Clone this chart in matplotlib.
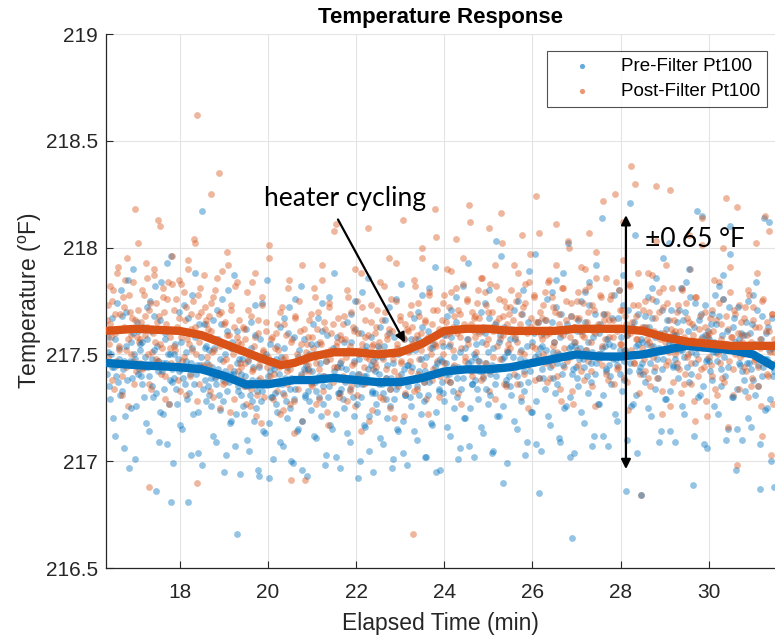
import numpy as np
import matplotlib
matplotlib.use("Agg")
import matplotlib.pyplot as plt

plt.rcParams['font.family'] = ['Liberation Sans', 'DejaVu Sans']
plt.rcParams['mathtext.fontset'] = 'custom'
plt.rcParams['mathtext.rm'] = 'Liberation Sans'
plt.rcParams['mathtext.it'] = 'Liberation Sans'

# ---------------- data ----------------
t_start, t_end = 16.35, 31.5   # sampled time span (min)
t_shift = 0.016                # second sample set lies between the first

post_filter_a = [
    217.66, 217.49, 217.82, 217.58, 217.75, 217.34, 217.69, 217.45, 217.91, 217.54, 217.62, 217.40, 217.72, 217.85, 217.52, 217.26, 217.78, 217.59, 217.67, 217.47, 218.18, 217.42, 217.71, 217.56,
    217.57, 217.80, 217.44, 217.68, 217.93, 217.63, 217.36, 217.74, 217.51, 217.60, 217.87, 217.48, 217.65, 218.13, 217.55, 217.41, 217.77, 217.70, 217.29, 217.61, 217.84, 217.53, 217.46, 217.96,
    217.71, 217.52, 217.63, 217.38, 217.85, 217.58, 217.47, 217.79, 217.66, 217.31, 217.90, 217.55, 217.62, 217.43, 217.75, 218.02, 217.50, 217.68, 217.36, 217.81, 217.59, 217.45, 217.72, 217.64,
    217.49, 217.68, 217.33, 217.61, 217.77, 217.52, 217.40, 217.86, 217.56, 217.25, 217.70, 217.47, 217.64, 217.37, 217.59, 217.92, 217.44, 217.73, 217.53, 217.29, 217.82, 217.58, 217.42, 217.66,
    217.55, 217.38, 217.62, 217.46, 217.27, 217.71, 217.50, 217.34, 217.84, 217.43, 217.58, 217.21, 217.66, 217.48, 217.39, 217.77, 217.52, 217.30, 217.61, 217.44, 217.95, 217.36, 217.57, 217.47,
    217.41, 217.60, 217.33, 217.52, 217.70, 217.45, 217.24, 217.64, 217.49, 217.36, 217.81, 217.43, 216.91, 217.57, 217.28, 217.67, 217.47, 217.38, 217.75, 217.55, 217.19, 217.62, 217.42, 217.51,
    217.58, 217.42, 217.69, 217.35, 217.53, 217.77, 217.46, 217.62, 217.29, 217.56, 217.85, 217.40, 217.65, 217.51, 217.23, 217.72, 217.48, 217.60, 217.37, 218.08, 217.54, 217.44, 217.67, 217.32,
    217.47, 217.64, 217.38, 217.57, 217.80, 217.52, 217.33, 217.70, 217.45, 217.61, 217.26, 217.75, 217.50, 217.41, 217.88, 217.55, 217.36, 217.66, 217.49, 217.59, 217.19, 217.73, 217.54, 217.43,
    217.60, 217.44, 217.71, 217.53, 217.30, 217.66, 217.48, 217.82, 217.39, 217.57, 217.62, 217.25, 217.76, 217.50, 217.42, 217.93, 217.55, 217.35, 217.68, 217.46, 217.58, 217.21, 217.64, 217.52,
    217.51, 217.69, 217.42, 217.63, 217.85, 217.57, 217.34, 217.74, 217.48, 217.60, 217.95, 217.45, 217.66, 217.29, 217.58, 217.79, 217.53, 217.38, 217.71, 217.55, 218.05, 217.47, 217.62, 217.40,
    217.66, 217.50, 217.78, 217.59, 217.38, 217.72, 217.55, 217.89, 217.63, 217.45, 217.81, 217.60, 217.32, 217.69, 217.53, 217.95, 217.64, 217.47, 217.75, 217.57, 218.12, 217.42, 217.70, 217.61,
    217.58, 217.74, 217.47, 217.67, 217.86, 217.61, 217.40, 217.79, 217.55, 217.70, 217.33, 217.83, 217.63, 217.49, 217.92, 217.65, 217.44, 217.76, 217.57, 218.02, 217.68, 217.36, 217.72, 217.52,
    217.69, 217.53, 217.80, 217.60, 217.41, 217.75, 217.56, 217.88, 217.64, 217.30, 217.72, 217.50, 217.83, 217.62, 217.45, 217.97, 217.67, 217.54, 217.78, 217.38, 217.65, 217.48, 218.07, 217.59,
    217.57, 217.73, 217.46, 217.66, 217.84, 217.60, 217.39, 217.77, 217.54, 217.70, 217.92, 217.51, 217.64, 217.34, 217.81, 217.59, 217.44, 217.75, 217.62, 218.00, 217.49, 217.68, 217.27, 217.63,
    217.67, 217.52, 217.79, 217.61, 217.42, 217.74, 217.58, 217.90, 217.65, 217.47, 217.82, 217.56, 217.35, 217.71, 217.60, 217.98, 217.63, 217.50, 217.77, 217.45, 217.69, 217.57, 217.86, 217.38,
    217.58, 217.76, 217.49, 217.66, 218.25, 217.62, 217.43, 217.80, 217.55, 217.71, 217.94, 217.52, 217.64, 217.37, 217.83, 217.60, 218.38, 217.73, 217.46, 217.68, 217.57, 217.88, 217.41, 216.84,
    217.63, 217.48, 217.75, 217.57, 217.39, 217.70, 217.54, 217.87, 217.61, 217.44, 218.29, 217.52, 217.79, 217.59, 217.33, 217.72, 217.56, 217.92, 217.47, 217.66, 217.26, 217.81, 217.60, 217.50,
    217.52, 217.70, 217.43, 217.61, 217.81, 217.55, 217.36, 217.74, 217.49, 217.65, 217.90, 217.46, 217.59, 217.28, 217.77, 217.53, 217.40, 217.68, 217.57, 218.01, 217.44, 217.63, 217.21, 217.58,
    217.60, 217.45, 217.71, 217.53, 217.34, 217.66, 217.50, 217.84, 217.57, 217.39, 217.76, 217.55, 218.23, 217.62, 217.47, 217.91, 217.58, 217.31, 217.69, 217.52, 216.98, 217.73, 217.49, 217.56,
    217.50, 217.67, 217.42, 217.59, 217.80, 217.53, 217.35, 217.72, 217.47, 217.63, 217.88, 217.44, 217.57, 217.26, 217.75, 217.54, 218.15, 217.65, 217.40, 217.61, 217.03, 217.69, 217.51, 217.46,
]

post_filter_b = [
    217.73, 217.55, 217.64, 217.38, 217.80, 217.60, 217.47, 217.88, 217.52, 217.69, 217.31, 217.77, 217.63, 217.44, 217.95, 217.57, 217.70, 217.50, 217.84, 217.36, 217.66, 217.58, 218.02, 217.46,
    217.65, 217.43, 217.78, 217.59, 217.86, 217.50, 217.71, 217.34, 217.62, 217.90, 217.56, 217.74, 217.47, 217.68, 218.10, 217.53, 217.81, 217.40, 217.64, 217.76, 217.27, 217.58, 217.83, 217.61,
    217.54, 217.76, 217.45, 217.67, 217.33, 217.83, 217.61, 217.49, 217.72, 217.57, 217.94, 217.40, 217.69, 217.52, 218.04, 217.63, 217.28, 217.78, 217.56, 217.70, 217.44, 217.87, 217.59, 217.66,
    217.62, 217.45, 217.74, 217.51, 217.30, 217.80, 217.57, 217.41, 217.69, 217.54, 217.89, 217.36, 217.65, 217.48, 217.98, 217.59, 217.23, 217.71, 217.50, 217.63, 217.39, 217.84, 217.56, 217.46,
    217.44, 217.63, 217.35, 217.57, 217.79, 217.48, 217.26, 217.68, 217.42, 217.54, 217.88, 217.31, 217.60, 217.45, 217.18, 217.73, 217.51, 217.37, 217.65, 217.49, 218.01, 217.40, 217.58, 217.29,
    217.53, 217.37, 217.64, 217.44, 217.22, 217.72, 217.48, 217.31, 217.59, 217.42, 217.85, 217.27, 217.56, 217.46, 217.13, 217.68, 217.50, 217.34, 217.61, 217.40, 217.92, 217.47, 216.91, 217.55,
    217.45, 217.66, 217.36, 217.58, 217.81, 217.49, 217.27, 217.70, 217.43, 217.55, 217.92, 217.33, 217.62, 217.47, 217.17, 217.74, 217.52, 217.39, 217.64, 217.44, 218.11, 217.56, 217.30, 217.59,
    217.57, 217.40, 217.68, 217.49, 217.28, 217.77, 217.54, 217.35, 217.63, 217.46, 217.90, 217.31, 217.60, 217.52, 217.14, 217.72, 217.44, 217.58, 217.37, 218.09, 217.48, 217.65, 217.24, 217.55,
    217.46, 217.63, 217.37, 217.56, 217.84, 217.50, 217.29, 217.70, 217.43, 217.59, 217.95, 217.34, 217.61, 217.48, 217.20, 217.75, 217.53, 217.40, 217.66, 217.47, 218.13, 217.57, 217.32, 217.62,
    217.61, 217.47, 217.73, 217.55, 217.33, 217.82, 217.59, 217.41, 217.68, 217.52, 218.00, 217.37, 217.65, 217.57, 217.22, 217.78, 217.50, 217.64, 217.43, 218.18, 217.54, 217.71, 217.30, 217.60,
    217.56, 217.74, 217.46, 217.65, 217.90, 217.60, 217.37, 217.79, 217.52, 217.68, 218.04, 217.43, 217.71, 217.58, 217.27, 217.83, 217.62, 217.49, 217.76, 217.55, 218.20, 217.64, 217.40, 217.67,
    217.68, 217.51, 217.80, 217.60, 217.38, 217.86, 217.63, 217.46, 217.73, 217.57, 218.09, 217.42, 217.70, 217.61, 217.29, 217.82, 217.54, 217.67, 217.48, 218.16, 217.59, 217.75, 217.35, 217.64,
    217.55, 217.72, 217.44, 217.66, 217.92, 217.58, 217.36, 217.78, 217.51, 217.69, 218.06, 217.41, 217.74, 217.60, 217.25, 217.84, 217.63, 217.47, 217.77, 217.53, 218.24, 217.65, 217.39, 217.70,
    217.67, 217.50, 217.79, 217.59, 217.37, 217.85, 217.62, 217.45, 217.72, 217.56, 218.11, 217.40, 217.69, 217.60, 217.28, 217.81, 217.53, 217.66, 217.47, 218.03, 217.58, 217.74, 217.33, 217.63,
    217.56, 217.75, 217.45, 217.67, 217.91, 217.59, 217.38, 217.80, 217.52, 217.70, 218.07, 217.42, 217.73, 217.61, 217.26, 217.86, 217.64, 217.48, 217.78, 217.54, 218.22, 217.66, 217.41, 217.69,
    217.66, 217.49, 217.78, 217.58, 217.36, 217.84, 217.61, 217.44, 217.71, 217.55, 218.12, 217.39, 217.68, 217.59, 217.24, 217.82, 217.52, 217.65, 217.46, 218.30, 217.57, 217.73, 217.32, 217.62,
    217.53, 217.71, 217.42, 217.63, 217.88, 217.56, 217.35, 217.76, 217.49, 217.67, 218.03, 217.39, 217.70, 217.57, 217.22, 217.81, 217.60, 217.45, 217.74, 217.51, 218.27, 217.62, 217.37, 217.66,
    217.61, 217.46, 217.73, 217.54, 217.32, 217.80, 217.58, 217.41, 217.67, 217.50, 218.06, 217.36, 217.64, 217.55, 217.19, 217.77, 217.48, 217.62, 217.43, 218.14, 217.53, 217.70, 217.28, 217.59,
    217.49, 217.67, 217.40, 217.61, 217.85, 217.53, 217.31, 217.74, 217.46, 217.64, 218.00, 217.37, 217.68, 217.55, 217.16, 217.79, 217.58, 217.43, 217.71, 217.50, 218.19, 217.60, 217.34, 217.65,
    217.59, 217.44, 217.72, 217.52, 217.30, 217.78, 217.56, 217.39, 217.66, 217.48, 218.02, 217.35, 217.63, 217.53, 217.12, 217.76, 217.46, 217.61, 217.41, 218.08, 217.51, 217.69, 217.27, 217.57,
]

pre_filter_a = [
    217.41, 217.58, 217.29, 217.50, 217.67, 217.44, 217.12, 217.62, 217.37, 217.53, 217.80, 217.33, 217.47, 217.21, 217.70, 217.45, 216.97, 217.56, 217.39, 217.90, 217.48, 217.26, 217.61, 217.43,
    217.52, 217.36, 217.63, 217.44, 217.18, 217.57, 217.40, 217.75, 217.48, 217.30, 217.68, 216.86, 217.54, 217.42, 217.23, 217.84, 217.46, 217.34, 217.60, 217.08, 217.50, 217.38, 217.96, 217.43,
    217.39, 217.55, 217.27, 217.48, 217.70, 217.43, 217.15, 217.61, 217.36, 217.51, 216.81, 217.32, 217.46, 217.78, 217.22, 217.58, 217.41, 217.04, 217.64, 217.45, 218.17, 217.34, 217.53, 217.28,
    217.46, 217.31, 217.58, 217.39, 217.12, 217.53, 217.36, 217.71, 217.43, 217.24, 217.64, 217.38, 216.95, 217.50, 217.33, 217.80, 217.41, 217.19, 217.56, 217.42, 217.07, 217.61, 217.35, 217.48,
    217.31, 217.48, 217.22, 217.40, 217.62, 217.35, 217.05, 217.53, 217.28, 217.44, 217.73, 217.25, 217.38, 216.93, 217.57, 217.33, 217.14, 217.49, 217.37, 217.85, 217.18, 217.42, 217.30, 217.01,
    217.43, 217.27, 217.54, 217.36, 217.09, 217.49, 217.32, 217.67, 217.39, 217.20, 217.60, 217.34, 217.00, 217.46, 217.29, 217.76, 217.38, 217.15, 217.52, 217.41, 216.96, 217.57, 217.31, 217.45,
    217.33, 217.50, 217.24, 217.42, 217.64, 217.37, 217.11, 217.55, 217.30, 217.46, 217.74, 217.27, 217.40, 217.03, 217.59, 217.35, 217.17, 217.51, 217.39, 217.88, 217.22, 217.44, 217.32, 216.97,
    217.44, 217.29, 217.56, 217.37, 217.13, 217.51, 217.34, 217.69, 217.41, 217.21, 217.62, 217.36, 216.92, 217.48, 217.30, 217.79, 217.40, 217.16, 217.54, 217.43, 217.05, 217.58, 217.33, 217.47,
    217.32, 217.49, 217.23, 217.41, 217.63, 217.36, 217.08, 217.54, 217.29, 217.45, 217.72, 217.26, 217.39, 217.01, 217.58, 217.34, 217.15, 217.50, 217.38, 217.83, 217.19, 217.43, 217.31, 216.98,
    217.45, 217.30, 217.57, 217.38, 217.14, 217.52, 217.35, 217.70, 217.42, 217.22, 217.63, 217.37, 217.02, 217.49, 217.31, 217.81, 217.41, 217.17, 217.55, 217.44, 216.95, 217.59, 217.34, 217.48,
    217.37, 217.54, 217.28, 217.46, 217.68, 217.41, 217.12, 217.58, 217.33, 217.49, 217.77, 217.30, 217.44, 217.06, 217.62, 217.39, 217.20, 217.53, 217.43, 217.93, 217.25, 217.47, 217.36, 217.02,
    217.49, 217.34, 217.61, 217.42, 217.16, 217.56, 217.39, 217.74, 217.46, 217.27, 217.67, 217.41, 217.04, 217.53, 217.36, 218.03, 217.44, 217.21, 217.59, 217.48, 216.90, 217.63, 217.38, 217.51,
    217.40, 217.57, 217.31, 217.49, 217.71, 217.44, 217.15, 217.61, 217.36, 217.52, 217.80, 217.33, 217.47, 217.09, 217.65, 217.42, 217.23, 217.56, 217.46, 217.97, 217.28, 217.50, 216.85, 217.05,
    217.54, 217.39, 217.66, 217.47, 217.21, 217.61, 217.44, 217.79, 217.51, 217.32, 217.72, 217.46, 217.11, 217.58, 217.41, 217.88, 217.49, 217.26, 217.64, 217.53, 217.02, 217.68, 217.43, 217.56,
    217.44, 217.61, 217.35, 217.53, 217.75, 217.48, 217.18, 217.65, 217.40, 217.56, 217.84, 217.37, 217.51, 217.12, 217.69, 217.46, 217.27, 217.60, 217.50, 218.14, 217.31, 217.54, 217.42, 217.07,
    217.55, 217.40, 217.67, 217.48, 217.22, 217.62, 217.45, 217.80, 217.52, 217.33, 217.73, 217.47, 216.86, 217.59, 217.42, 218.21, 217.50, 217.27, 217.65, 217.54, 217.04, 217.69, 217.44, 217.57,
    217.46, 217.63, 217.37, 217.55, 217.77, 217.50, 217.21, 217.67, 217.42, 217.58, 217.86, 217.39, 217.53, 217.14, 217.71, 217.48, 217.29, 217.62, 217.52, 218.02, 217.33, 217.56, 217.44, 217.09,
    217.59, 217.44, 217.71, 217.52, 217.26, 217.66, 217.49, 217.84, 217.56, 217.37, 217.77, 217.51, 216.89, 217.63, 217.46, 218.17, 217.54, 217.31, 217.69, 217.58, 217.08, 217.73, 217.48, 217.61,
    217.47, 217.64, 217.38, 217.56, 217.78, 217.51, 217.22, 217.68, 217.43, 217.59, 217.87, 217.40, 217.54, 217.15, 217.72, 218.10, 217.30, 217.63, 217.53, 216.96, 217.34, 217.57, 217.45, 217.10,
    217.53, 217.38, 217.65, 217.46, 217.20, 217.60, 217.43, 217.78, 217.50, 217.31, 217.71, 217.45, 216.87, 217.57, 217.40, 218.14, 217.48, 217.25, 217.63, 217.52, 217.00, 217.67, 217.42, 217.55,
]

pre_filter_b = [
    217.51, 217.35, 217.62, 217.44, 217.20, 217.57, 217.40, 217.74, 217.48, 217.31, 217.68, 217.43, 217.06, 217.54, 217.38, 217.85, 217.47, 217.25, 217.60, 217.50, 217.01, 217.65, 217.41, 217.55,
    217.40, 217.56, 217.30, 217.49, 217.72, 217.44, 217.14, 217.61, 217.35, 217.52, 217.82, 217.32, 217.47, 217.09, 217.66, 217.42, 217.22, 217.57, 217.46, 217.93, 217.27, 217.50, 217.37, 216.99,
    217.50, 217.34, 217.61, 217.42, 217.17, 217.56, 217.39, 217.73, 217.47, 217.29, 217.67, 217.41, 217.03, 217.53, 217.36, 217.88, 217.45, 217.23, 217.59, 217.49, 216.98, 217.64, 217.38, 217.54,
    217.35, 217.52, 217.26, 217.44, 217.66, 217.39, 217.09, 217.57, 217.31, 217.48, 217.76, 217.28, 217.42, 217.03, 217.61, 217.37, 217.18, 217.53, 217.41, 217.87, 217.22, 217.46, 217.33, 216.94,
    217.41, 217.26, 217.52, 217.35, 217.10, 217.47, 217.31, 217.65, 217.38, 217.19, 217.59, 217.33, 216.96, 217.44, 217.28, 217.74, 217.37, 217.13, 217.50, 217.40, 216.92, 217.55, 217.30, 217.45,
    217.32, 217.48, 217.23, 217.41, 217.63, 217.36, 217.07, 217.53, 217.28, 217.44, 217.72, 217.25, 217.39, 216.99, 217.58, 217.34, 217.14, 217.49, 217.38, 217.82, 217.19, 217.43, 217.30, 216.93,
    217.43, 217.28, 217.55, 217.37, 217.12, 217.50, 217.33, 217.67, 217.40, 217.21, 217.61, 217.35, 216.98, 217.47, 217.30, 217.77, 217.39, 217.15, 217.53, 217.42, 217.02, 217.58, 217.32, 217.46,
    217.34, 217.51, 217.25, 217.43, 217.65, 217.38, 217.09, 217.56, 217.30, 217.47, 217.75, 217.27, 217.41, 217.00, 217.60, 217.36, 217.17, 217.52, 217.40, 217.86, 217.21, 217.45, 217.32, 216.95,
    217.42, 217.27, 217.54, 217.36, 217.11, 217.49, 217.32, 217.66, 217.39, 217.20, 217.60, 217.34, 216.97, 217.46, 217.29, 217.76, 217.38, 217.14, 217.52, 217.41, 217.04, 217.57, 217.31, 217.45,
    217.35, 217.52, 217.26, 217.44, 217.67, 217.39, 217.10, 217.57, 217.31, 217.48, 217.78, 217.28, 217.42, 217.02, 217.61, 217.37, 217.18, 217.53, 217.41, 217.91, 217.23, 217.46, 217.33, 216.96,
    217.47, 217.32, 217.59, 217.41, 217.16, 217.54, 217.37, 217.71, 217.44, 217.25, 217.65, 217.39, 217.01, 217.51, 217.34, 217.82, 217.43, 217.20, 217.57, 217.46, 217.07, 217.62, 217.36, 217.50,
    217.38, 217.55, 217.29, 217.47, 217.70, 217.42, 217.13, 217.60, 217.34, 217.51, 217.80, 217.31, 217.45, 217.05, 217.64, 217.40, 217.21, 217.56, 217.44, 217.96, 217.26, 217.49, 217.36, 216.99,
    217.51, 217.35, 217.62, 217.44, 217.19, 217.57, 217.40, 217.75, 217.48, 217.28, 217.69, 217.42, 217.03, 217.54, 217.37, 217.89, 217.46, 217.23, 217.60, 217.49, 217.08, 217.65, 217.39, 217.53,
    217.43, 217.60, 217.34, 217.52, 217.76, 217.47, 217.17, 217.65, 217.39, 217.56, 217.85, 217.36, 217.50, 217.09, 217.69, 217.45, 217.25, 217.61, 217.49, 218.02, 217.30, 217.54, 217.41, 217.04,
    217.54, 217.39, 217.66, 217.48, 217.23, 217.61, 217.44, 217.79, 217.52, 217.32, 217.73, 217.46, 217.07, 217.58, 217.41, 217.92, 217.50, 217.27, 217.64, 217.53, 217.12, 217.69, 217.43, 217.57,
    217.45, 217.62, 217.36, 217.54, 217.78, 217.48, 217.19, 217.67, 217.41, 217.58, 217.87, 217.38, 217.52, 217.10, 217.71, 217.46, 217.26, 217.63, 217.50, 218.06, 217.31, 217.55, 217.42, 216.84,
    217.56, 217.41, 217.68, 217.50, 217.25, 217.63, 217.46, 217.81, 217.54, 217.34, 217.75, 217.48, 217.09, 217.60, 217.43, 217.95, 217.52, 217.29, 217.66, 217.55, 217.14, 217.71, 217.45, 217.59,
    217.48, 217.65, 217.39, 217.57, 217.81, 217.52, 217.22, 217.70, 217.44, 217.61, 217.90, 217.41, 217.55, 217.12, 217.74, 217.50, 217.30, 217.66, 217.54, 218.15, 217.35, 217.59, 217.47, 217.06,
    217.57, 217.42, 217.69, 217.51, 217.26, 217.64, 217.47, 217.82, 217.55, 217.35, 217.76, 217.49, 217.10, 217.61, 217.44, 217.97, 217.53, 217.30, 217.67, 217.56, 217.15, 217.72, 217.46, 217.60,
    217.42, 217.59, 217.33, 217.51, 217.75, 217.46, 217.16, 217.64, 217.38, 217.55, 217.84, 217.35, 217.49, 217.08, 217.68, 217.44, 217.24, 217.60, 217.48, 218.12, 217.29, 217.53, 217.40, 216.88,
]

# isolated outliers (time, value)
post_out_t = [18.4, 18.9, 18.7, 23.3, 17.3, 18.4]
post_out_v = [218.62, 218.35, 218.25, 216.66, 216.88, 216.90]
pre_out_t = [19.3, 26.9, 17.8]
pre_out_v = [216.66, 216.64, 216.81]

# smoothed (moving mean) trends
trend_t = [16.33, 17.0, 18.0, 18.5, 19.0, 19.5, 20.0, 20.3, 20.6, 21.0, 21.5, 22.0, 22.5, 23.0,
           23.5, 24.0, 24.5, 25.0, 25.5, 26.0, 26.5, 27.0, 27.5, 28.0, 28.5, 29.0, 29.5, 30.0,
           30.5, 31.0, 31.5]
post_trend = [217.61, 217.62, 217.61, 217.59, 217.55, 217.51, 217.47, 217.45, 217.46, 217.49, 217.51,
              217.51, 217.50, 217.51, 217.55, 217.61, 217.62, 217.62, 217.61, 217.61, 217.61, 217.62,
              217.62, 217.62, 217.61, 217.58, 217.56, 217.55, 217.54, 217.54, 217.54]
pre_trend = [217.46, 217.45, 217.44, 217.43, 217.40, 217.36, 217.36, 217.37, 217.38, 217.38, 217.39,
             217.38, 217.37, 217.37, 217.39, 217.42, 217.43, 217.43, 217.44, 217.46, 217.48, 217.50,
             217.49, 217.49, 217.50, 217.52, 217.54, 217.53, 217.52, 217.50, 217.44]

x_ticks = [18, 20, 22, 24, 26, 28, 30]
y_ticks = [216.5, 217, 217.5, 218, 218.5, 219]
y_ticklabels = ['216.5', '217', '217.5', '218', '218.5', '219']

BLUE = '#0072BD'
ORANGE = '#D95319'
MS = 24
AL = 0.42

# ---------------- figure ----------------
fig = plt.figure(figsize=(7.75, 6.37), dpi=100)
ax = fig.add_axes([106/775, 69/637, 669/775, 534/637])

def times(vals, shift):
    return np.linspace(t_start + shift, t_end - shift, len(vals))

ax.scatter(times(pre_filter_a, 0), pre_filter_a, s=MS, color=BLUE, alpha=AL, linewidths=0,
           zorder=2, label='Pre-Filter Pt100')
ax.scatter(times(post_filter_a, 0), post_filter_a, s=MS, color=ORANGE, alpha=AL, linewidths=0,
           zorder=2, label='Post-Filter Pt100')
ax.scatter(times(pre_filter_b, t_shift), pre_filter_b, s=MS, color=BLUE, alpha=AL, linewidths=0, zorder=2)
ax.scatter(times(post_filter_b, t_shift), post_filter_b, s=MS, color=ORANGE, alpha=AL, linewidths=0, zorder=2)
ax.scatter(pre_out_t, pre_out_v, s=MS, color=BLUE, alpha=AL, linewidths=0, zorder=2)
ax.scatter(post_out_t, post_out_v, s=MS, color=ORANGE, alpha=AL, linewidths=0, zorder=2)

ax.plot(trend_t, pre_trend, color=BLUE, lw=6.0, zorder=3, solid_capstyle='butt')
ax.plot(trend_t, post_trend, color=ORANGE, lw=6.0, zorder=3, solid_capstyle='butt')

ax.set_xlim(16.33, 31.5)
ax.set_ylim(216.5, 219)
ax.set_xticks(x_ticks)
ax.set_yticks(y_ticks)
ax.set_yticklabels(y_ticklabels)
ax.tick_params(direction='in', length=5, width=0.8, colors='#262626', labelsize=15)
ax.tick_params(axis='y', pad=6)
ax.tick_params(axis='x', pad=11)
ax.grid(True, color='#e4e4e4', lw=0.8, zorder=0)
ax.set_axisbelow(True)
for s in ['top', 'right']:
    ax.spines[s].set_visible(False)
for s in ['left', 'bottom']:
    ax.spines[s].set_color('#262626')
    ax.spines[s].set_linewidth(0.9)

ax.set_xlabel('Elapsed Time (min)', fontsize=16.5, color='#262626', labelpad=7)
ax.set_ylabel(r'Temperature ($^{\mathrm{o}}$F)', fontsize=16.5, color='#262626', labelpad=1)
fig.text(440/775, 1 - 17/637, 'Temperature Response', ha='center', va='center',
         fontsize=16, fontweight='bold', color='black')

leg = ax.legend(loc='upper right', bbox_to_anchor=(767/775, 1 - 51/637),
                bbox_transform=fig.transFigure, fontsize=13.5, frameon=True, fancybox=False,
                edgecolor='#262626', handlelength=3.0, handletextpad=0.6, borderpad=0.35,
                labelspacing=0.45, scatterpoints=1, borderaxespad=0)
leg.get_frame().set_linewidth(0.8)
for h in leg.legend_handles:
    h.set_alpha(0.6)
    h.set_sizes([14])

# annotations
ann_font = ['Lato', 'DejaVu Sans']
ax.annotate('', xy=(23.14, 217.544), xytext=(21.56, 218.143),
            arrowprops=dict(arrowstyle='-|>', color='black', lw=1.6, mutation_scale=14), zorder=5)
ax.text(21.74, 218.23, 'heater cycling', fontsize=19, family=ann_font,
        ha='center', va='center', color='black', zorder=5)
ax.annotate('', xy=(28.12, 216.95), xytext=(28.12, 218.165),
            arrowprops=dict(arrowstyle='<|-|>', color='black', lw=1.6, mutation_scale=14), zorder=5)
ax.text(28.55, 218.04, '±0.65 °F', fontsize=19, family=ann_font,
        ha='left', va='center', color='black', zorder=5)

fig.savefig('out.png', dpi=100)
